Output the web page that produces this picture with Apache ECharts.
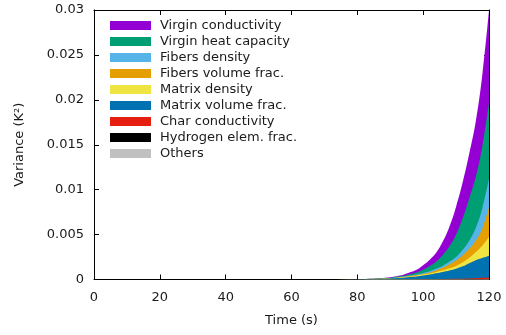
<!DOCTYPE html>
<html>
<head>
<meta charset="utf-8">
<script src="https://cdn.jsdelivr.net/npm/echarts@6/dist/echarts.min.js"></script>
<style>
html,body{margin:0;padding:0;background:#fff;}
#chart{width:506px;height:335px;}
</style>
</head>
<body>
<div id="chart"></div>
<script>
// Time (s)
var times = [0,10,20,30,40,50,60,70,80,82,84,86,88,90,92,94,96,98,100,102,104,106,108,110,112,114,116,118,120];
// Variance contributions (K^2), stacked bottom -> top
var others      = [0,0,0,0,0,0,0,0,0,0,0,0,0,0,0,0,0,0,0,0,0,0,0.000001,0.000002,0.000003,0.000004,0.000006,0.000008,0.00001];
var hydrogen    = [0,0,0,0,0,0,0,0,0,0,0,0,0,0,0,0,0,0,0.000001,0.000002,0.000003,0.000004,0.000006,0.000008,0.00001,0.000013,0.000016,0.00002,0.000025];
var charCond    = [0,0,0,0,0,0,0,0,0,0,0,0,0.000002,0.000003,0.000004,0.000006,0.000008,0.00001,0.000015,0.00002,0.00003,0.00004,0.00005,0.00006,0.00008,0.0001,0.00013,0.00016,0.0002];
var matrixVol   = [0,0,0,0,0,0,0,0,0.00001,0.00002,0.00003,0.00005,0.00007,0.0001,0.00015,0.0002,0.00026,0.00033,0.00043,0.00053,0.00067,0.0008,0.00095,0.00114,0.00137,0.0017,0.002,0.0022,0.0024];
var matrixDens  = [0,0,0,0,0,0,0,0,0.000003,0.000005,0.000008,0.00001,0.000015,0.00002,0.00003,0.00005,0.00006,0.00008,0.0001,0.00012,0.00014,0.00018,0.00024,0.0003,0.00045,0.0006,0.0009,0.0014,0.0021];
var fibersVol   = [0,0,0,0,0,0,0,0,0.000004,0.000006,0.00001,0.000012,0.000016,0.00002,0.00002,0.00003,0.00005,0.00007,0.00008,0.00011,0.0002,0.0003,0.00045,0.0006,0.0008,0.001,0.0013,0.0019,0.0033];
var fibersDens  = [0,0,0,0,0,0,0,0,0.000004,0.000006,0.00001,0.000012,0.000016,0.00002,0.00003,0.00004,0.00006,0.00008,0.00009,0.00013,0.00017,0.00022,0.0003,0.0004,0.0006,0.0009,0.0014,0.0023,0.0032];
var virginHeat  = [0,0,0,0,0,0,0,0,0.000004,0.000008,0.000012,0.00002,0.00003,0.00004,0.00007,0.0001,0.00016,0.00022,0.00038,0.0006,0.0008,0.0012,0.0017,0.0025,0.0035,0.0047,0.0057,0.0069,0.0084];
var virginCond  = [0,0,0,0,0,0,0,0,0.000003,0.000006,0.00001,0.000016,0.000025,0.00004,0.00006,0.0001,0.0002,0.0003,0.0005,0.0007,0.001,0.0015,0.0022,0.0031,0.004,0.005,0.0062,0.008,0.0103];

var seriesDefs = [
  {name:'Others', data:others, color:'#C0C0C0'},
  {name:'Hydrogen elem. frac.', data:hydrogen, color:'#000000'},
  {name:'Char conductivity', data:charCond, color:'#E51E10'},
  {name:'Matrix volume frac.', data:matrixVol, color:'#0072B2'},
  {name:'Matrix density', data:matrixDens, color:'#F0E442'},
  {name:'Fibers volume frac.', data:fibersVol, color:'#E69F00'},
  {name:'Fibers density', data:fibersDens, color:'#56B4E9'},
  {name:'Virgin heat capacity', data:virginHeat, color:'#009E73'},
  {name:'Virgin conductivity', data:virginCond, color:'#9400D3'}
];
var legendOrder = ['Virgin conductivity','Virgin heat capacity','Fibers density','Fibers volume frac.','Matrix density','Matrix volume frac.','Char conductivity','Hydrogen elem. frac.','Others'];

var font = 'DejaVu Sans';
var txt = '#1a1a1a';

// cumulative stack (bottom -> top)
var cum = times.map(function(){ return 0; });
var stacked = seriesDefs.map(function(s){
  cum = cum.map(function(c, i){ return c + s.data[i]; });
  return {def: s, values: cum.slice()};
});

// draw top-most cumulative first so lower layers paint over it
var series = stacked.slice().reverse().map(function(st, k){
  var s = st.def;
  return {
    name: s.name,
    type: 'line',
    smooth: 0.4,
    showSymbol: false,
    symbol: 'none',
    lineStyle: {width: 0},
    itemStyle: {color: s.color},
    areaStyle: {color: s.color, opacity: 1, origin: 'start'},
    data: times.map(function(t, i){ return [t, st.values[i]]; }),
    z: 2 + k
  };
});

var chart = echarts.init(document.getElementById('chart'), null, {renderer:'canvas'});
chart.setOption({
  animation: false,
  backgroundColor: '#fff',
  textStyle: {fontFamily: font},
  grid: {left: 94, right: 17, top: 10, bottom: 55.5, containLabel: false},
  legend: {
    orient: 'vertical',
    left: 105,
    top: 14,
    itemWidth: 41,
    itemHeight: 9,
    itemGap: 3,
    icon: 'rect',
    data: legendOrder,
    textStyle: {fontFamily: font, fontSize: 13, color: txt, lineHeight: 13, padding: [0,0,0,4]}
  },
  xAxis: [{
    type: 'value', min: 0, max: 120, interval: 20,
    name: 'Time (s)', nameLocation: 'middle', nameGap: 35,
    nameTextStyle: {fontFamily: font, fontSize: 13, color: txt},
    axisLine: {show: true, onZero: false, lineStyle: {color: '#000', width: 1}},
    axisTick: {show: true, inside: true, length: 5, lineStyle: {color: '#000'}},
    axisLabel: {fontFamily: font, fontSize: 13, color: txt, margin: 12},
    splitLine: {show: false}
  },{
    type: 'value', min: 0, max: 120, interval: 20, position: 'top',
    axisLine: {show: true, onZero: false, lineStyle: {color: '#000', width: 1}},
    axisTick: {show: true, inside: true, length: 5, lineStyle: {color: '#000'}},
    axisLabel: {show: false},
    splitLine: {show: false}
  }],
  yAxis: [{
    type: 'value', min: 0, max: 0.03, interval: 0.005,
    name: 'Variance (K²)', nameLocation: 'middle', nameGap: 68, nameRotate: 90,
    nameTextStyle: {fontFamily: font, fontSize: 13, color: txt},
    axisLine: {show: true, onZero: false, lineStyle: {color: '#000', width: 1}},
    axisTick: {show: true, inside: true, length: 5, lineStyle: {color: '#000'}},
    axisLabel: {fontFamily: font, fontSize: 13, color: txt, margin: 10,
      formatter: function(v){ return String(+v.toFixed(3)); }},
    splitLine: {show: false}
  },{
    type: 'value', min: 0, max: 0.03, interval: 0.005, position: 'right',
    axisLine: {show: true, onZero: false, lineStyle: {color: '#000', width: 1}},
    axisTick: {show: true, inside: true, length: 5, lineStyle: {color: '#000'}},
    axisLabel: {show: false},
    splitLine: {show: false}
  }],
  series: series
});
</script>
</body>
</html>
